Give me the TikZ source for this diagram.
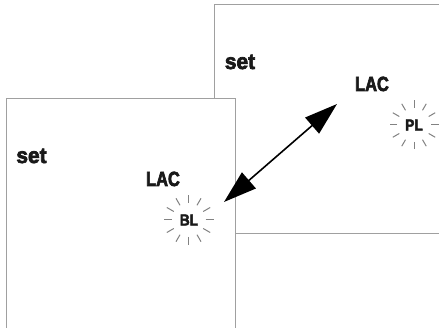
\documentclass[tikz,border=0pt]{standalone}
\usepackage{fontspec}
\setmainfont{Liberation Sans}
\newfontfamily\setfont{Liberation Sans}[FakeStretch=0.95, BoldFeatures={FakeBold=3.2}]
\newfontfamily\lacfont{Liberation Sans}[FakeStretch=0.8, BoldFeatures={FakeBold=3.2}]
\newfontfamily\tagfont{Liberation Sans}[FakeStretch=0.86, BoldFeatures={FakeBold=2.6}]
\usetikzlibrary{arrows.meta,calc}
\definecolor{panelgray}{RGB}{160,160,160}
\definecolor{raygray}{RGB}{130,130,130}
\definecolor{inkk}{RGB}{25,25,25}
\tikzset{
  panel/.style={draw=panelgray, line width=1pt, fill=white},
  settxt/.style={font=\setfont\fontsize{22}{22}\selectfont\bfseries, inner sep=0pt, text=inkk},
  lactxt/.style={font=\lacfont\fontsize{20.5}{20.5}\selectfont\bfseries, inner sep=0pt, text=inkk},
  tagtxt/.style={font=\tagfont\fontsize{16}{16}\selectfont\bfseries, inner sep=0pt, text=inkk},
  ray/.style={draw=raygray, line width=1pt},
  link/.style={line width=1.6pt, {Triangle[length=33pt,width=21pt]}-{Triangle[length=33pt,width=21pt]}}
}
\begin{document}
\begin{tikzpicture}[x=1pt,y=-1pt]
\useasboundingbox (0,0) rectangle (439,328);
% back panel
\path[panel] (214,5) rectangle (445,234);
\node[settxt, anchor=base] (set2) at (240,69) {set};
\node[lactxt, anchor=base] (lac2) at (372,91) {LAC};
\node[tagtxt] (pl) at (414,125) {PL};
\coordinate (plc) at (414,125);
\foreach \a in {0,30,...,330} \draw[ray] ($(plc)+(\a:17)$) -- ($(plc)+(\a:24.5)$);
% front panel
\path[panel] (6,99) rectangle (235,335);
\node[settxt, anchor=base] (set1) at (31.5,163) {set};
\node[lactxt, anchor=base] (lac1) at (163,186) {LAC};
\node[tagtxt] (bl) at (189,220) {BL};
\coordinate (blc) at (188.5,220);
\foreach \a in {0,30,...,330} \draw[ray] ($(blc)+(\a:17)$) -- ($(blc)+(\a:25)$);
% arrow
\coordinate (ta) at (224,202);
\coordinate (tb) at (337,104);
\draw[link] (ta) -- (tb);
\end{tikzpicture}
\end{document}
